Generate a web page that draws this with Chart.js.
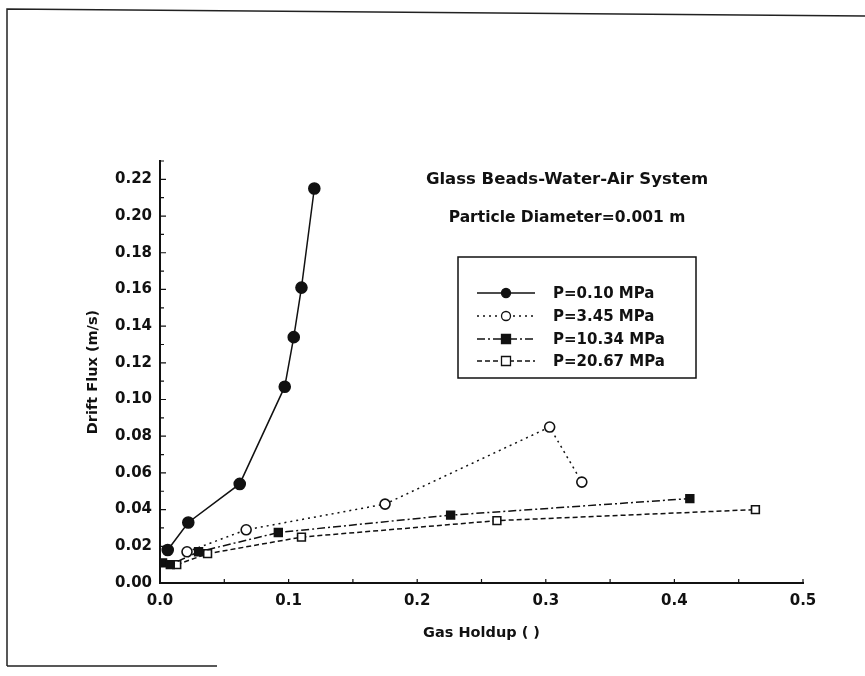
<!DOCTYPE html>
<html>
<head>
<meta charset="utf-8">
<script src="https://cdn.jsdelivr.net/npm/chart.js@4.4.1/dist/chart.umd.min.js"></script>
<style>
  html, body { margin: 0; padding: 0; background: #fff; }
  #wrap { width: 865px; height: 676px; position: relative; }
</style>
</head>
<body>
<div id="wrap"><canvas id="grafico"></canvas></div>
<script>
// Datos
const etiquetas = ['P=0.10 MPa', 'P=3.45 MPa', 'P=10.34 MPa', 'P=20.67 MPa'];

const holdup010 = [0.006, 0.022, 0.062, 0.097, 0.104, 0.110, 0.120];
const flux010   = [0.018, 0.033, 0.054, 0.107, 0.134, 0.161, 0.215];

const holdup345 = [0.021, 0.067, 0.175, 0.303, 0.328];
const flux345   = [0.017, 0.029, 0.043, 0.085, 0.055];

const holdup1034 = [0.002, 0.008, 0.030, 0.092, 0.226, 0.412];
const flux1034   = [0.011, 0.010, 0.017, 0.0275, 0.037, 0.046];

const holdup2067 = [0.013, 0.037, 0.110, 0.262, 0.463];
const flux2067   = [0.010, 0.016, 0.025, 0.034, 0.040];

const tituloX = 'Gas Holdup ( )';
const tituloY = 'Drift Flux (m/s)';
const textoSistema = 'Glass Beads-Water-Air System';
const textoDiametro = 'Particle Diameter=0.001 m';

const fuente = 'DejaVu Sans';

function puntos(xs, ys) {
    return xs.map((x, i) => ({ x: x, y: ys[i] }));
}

// estilos de cada serie
const series = [
    { data: puntos(holdup010, flux010), dash: [], estilo: 'circle', relleno: true, radio: 5.5 },
    { data: puntos(holdup345, flux345), dash: [2, 4], estilo: 'circle', relleno: false, radio: 5 },
    { data: puntos(holdup1034, flux1034), dash: [8, 3, 2, 3], estilo: 'rect', relleno: true, radio: 5.5 },
    { data: puntos(holdup2067, flux2067), dash: [5, 3], estilo: 'rect', relleno: false, radio: 5.5 }
];

// marcas hacia adentro, marco y textos dentro del area
const extras = {
    id: 'extras',
    beforeDraw(chart) {
        const c = chart.ctx;
        c.save();
        c.fillStyle = '#fff';
        c.fillRect(0, 0, chart.width, chart.height);
        // marco escaneado
        c.strokeStyle = '#222';
        c.lineWidth = 1.5;
        c.beginPath();
        c.moveTo(7, 666);
        c.lineTo(7, 9);
        c.lineTo(865, 16);
        c.moveTo(7, 666);
        c.lineTo(217, 666);
        c.stroke();
        c.restore();
    },
    afterDraw(chart) {
        const c = chart.ctx;
        const sx = chart.scales.x, sy = chart.scales.y;
        const area = chart.chartArea;
        c.save();
        c.strokeStyle = '#111';
        c.lineWidth = 1.2;
        c.beginPath();
        for (let v = 0.05; v <= 0.5001; v += 0.05) {
            const px = sx.getPixelForValue(v);
            c.moveTo(px, area.bottom);
            c.lineTo(px, area.bottom - 4);
        }
        for (let i = 1; i <= 23; i++) {
            const py = sy.getPixelForValue(i * 0.01);
            c.moveTo(area.left, py);
            c.lineTo(area.left + (i % 2 === 0 ? 6 : 4), py);
        }
        c.stroke();

        // textos
        c.fillStyle = '#111';
        c.textAlign = 'center';
        c.textBaseline = 'middle';
        c.font = 'bold 16.5px "' + fuente + '"';
        c.fillText(textoSistema, 567, 180);
        c.font = 'bold 15.5px "' + fuente + '"';
        c.fillText(textoDiametro, 567, 218);

        // leyenda
        c.lineWidth = 1.5;
        c.strokeRect(458, 257, 238, 121);
        const filas = [293, 316, 339, 361];
        c.textAlign = 'left';
        c.font = 'bold 15px "' + fuente + '"';
        chart.data.datasets.forEach((ds, i) => {
            const y = filas[i];
            c.lineWidth = 1.3;
            c.setLineDash(ds.borderDash || []);
            c.beginPath();
            c.moveTo(477, y);
            c.lineTo(535, y);
            c.stroke();
            c.setLineDash([]);
            const r = 4.5;
            c.fillStyle = ds.pointBackgroundColor;
            c.beginPath();
            if (ds.pointStyle === 'circle') {
                c.arc(506, y, r, 0, Math.PI * 2);
            } else {
                c.rect(506 - r, y - r, 2 * r, 2 * r);
            }
            c.fill();
            c.stroke();
            c.fillStyle = '#111';
            c.fillText(ds.label, 553, y + 1);
        });
        c.restore();
    }
};

const ctx = document.getElementById('grafico').getContext('2d');
const grafico = new Chart(ctx, {
    type: 'scatter',
    data: {
        datasets: series.map((s, i) => ({
            label: etiquetas[i],
            data: s.data,
            showLine: true,
            borderColor: '#111',
            borderWidth: 1.5,
            borderDash: s.dash,
            pointStyle: s.estilo,
            pointRadius: s.radio,
            pointBorderWidth: 1.6,
            pointBorderColor: '#111',
            pointBackgroundColor: s.relleno ? '#111' : '#fff'
        }))
    },
    options: {
        responsive: true,
        maintainAspectRatio: false,
        animation: false,
        layout: { padding: { left: 85, right: 62, top: 161, bottom: 34 } },
        plugins: {
            legend: { display: false },
            tooltip: { enabled: false }
        },
        scales: {
            x: {
                type: 'linear',
                min: 0,
                max: 0.5,
                afterFit: function (scale) { scale.height = 59; },
                grid: { display: false, drawTicks: false },
                border: { display: true, color: '#111', width: 2 },
                ticks: {
                    stepSize: 0.1,
                    padding: 9,
                    color: '#111',
                    font: { family: fuente, size: 15, weight: 'bold' },
                    callback: function (value) { return value.toFixed(1); }
                },
                title: {
                    display: true,
                    text: tituloX,
                    color: '#111',
                    padding: 0,
                    font: { family: fuente, size: 14.5, weight: 'bold' }
                }
            },
            y: {
                type: 'linear',
                min: 0,
                max: 0.23,
                afterFit: function (scale) { scale.width = 75; },
                afterBuildTicks: function (scale) {
                    scale.ticks = scale.ticks.filter(t => Math.abs(t.value * 50 - Math.round(t.value * 50)) < 1e-6);
                },
                grid: { display: false, drawTicks: false },
                border: { display: true, color: '#111', width: 2 },
                ticks: {
                    stepSize: 0.02,
                    padding: 8,
                    color: '#111',
                    font: { family: fuente, size: 15, weight: 'bold' },
                    callback: function (value) { return value.toFixed(2); }
                },
                title: {
                    display: true,
                    text: tituloY,
                    color: '#111',
                    padding: 0,
                    font: { family: fuente, size: 14.5, weight: 'bold' }
                }
            }
        }
    },
    plugins: [extras]
});
</script>
</body>
</html>
